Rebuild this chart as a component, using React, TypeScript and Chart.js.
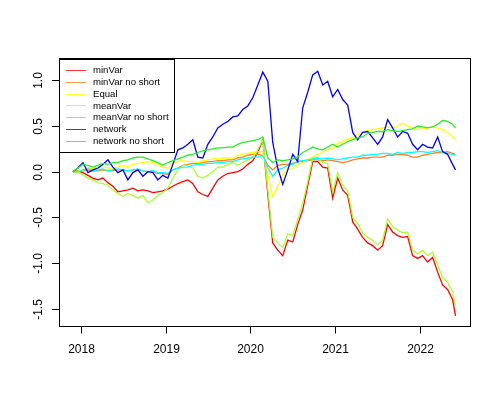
import React, { useEffect, useRef } from "react";
import { Chart, registerables } from "chart.js";

Chart.register(...registerables);

const FONT = '"Liberation Sans", Arial, Helvetica, sans-serif';

// decimal-year dates of the sampled observations
const dates = [
  2017.909, 2017.968, 2018.027, 2018.086, 2018.145, 2018.204, 2018.262, 2018.321, 2018.380, 2018.439,
  2018.498, 2018.556, 2018.615, 2018.674, 2018.733, 2018.792, 2018.851, 2018.909, 2018.968, 2019.027,
  2019.086, 2019.145, 2019.204, 2019.262, 2019.321, 2019.380, 2019.439, 2019.498, 2019.556, 2019.615,
  2019.674, 2019.733, 2019.792, 2019.851, 2019.909, 2019.968, 2020.027, 2020.086, 2020.145, 2020.204,
  2020.262, 2020.321, 2020.380, 2020.439, 2020.498, 2020.556, 2020.615, 2020.674, 2020.733, 2020.792,
  2020.851, 2020.909, 2020.968, 2021.027, 2021.086, 2021.145, 2021.204, 2021.262, 2021.321, 2021.380,
  2021.439, 2021.498, 2021.556, 2021.615, 2021.674, 2021.733, 2021.792, 2021.851, 2021.909, 2021.968,
  2022.027, 2022.086, 2022.145, 2022.204, 2022.262, 2022.321, 2022.380, 2022.415,
];

const minVar = [
  0.00, 0.01, -0.01, -0.04, -0.07, -0.09, -0.07, -0.12, -0.16, -0.22,
  -0.21, -0.20, -0.18, -0.21, -0.20, -0.21, -0.23, -0.22, -0.21, -0.19,
  -0.16, -0.13, -0.11, -0.09, -0.13, -0.22, -0.25, -0.27, -0.18, -0.09,
  -0.05, -0.02, -0.01, 0.00, 0.03, 0.08, 0.12, 0.21, 0.35, -0.25,
  -0.78, -0.86, -0.92, -0.75, -0.77, -0.58, -0.42, -0.15, 0.11, 0.11,
  0.05, 0.04, -0.29, -0.07, -0.20, -0.26, -0.55, -0.63, -0.72, -0.78,
  -0.81, -0.86, -0.81, -0.58, -0.66, -0.70, -0.72, -0.71, -0.92, -0.95,
  -0.92, -0.99, -0.94, -1.10, -1.24, -1.29, -1.40, -1.58,
];

const minVarNoShort = [
  0.00, 0.00, 0.01, 0.02, 0.01, 0.01, 0.02, 0.01, 0.01, 0.02,
  0.02, 0.01, 0.02, 0.02, 0.01, 0.00, 0.00, -0.02, -0.02, -0.03,
  0.02, 0.04, 0.07, 0.08, 0.09, 0.09, 0.10, 0.11, 0.11, 0.12,
  0.12, 0.13, 0.13, 0.15, 0.16, 0.18, 0.19, 0.19, 0.18, 0.07,
  0.02, 0.07, 0.08, 0.08, 0.09, 0.11, 0.11, 0.12, 0.13, 0.13,
  0.12, 0.13, 0.12, 0.11, 0.10, 0.11, 0.13, 0.14, 0.15, 0.15,
  0.16, 0.16, 0.16, 0.18, 0.18, 0.19, 0.19, 0.18, 0.16, 0.16,
  0.18, 0.19, 0.20, 0.21, 0.21, 0.22, 0.20, 0.19,
];

const equal = [
  0.00, 0.01, 0.02, 0.04, 0.03, 0.04, 0.05, 0.04, 0.04, 0.05,
  0.07, 0.05, 0.08, 0.09, 0.10, 0.11, 0.10, 0.08, 0.05, 0.04,
  0.09, 0.11, 0.12, 0.11, 0.11, 0.10, 0.12, 0.13, 0.14, 0.14,
  0.15, 0.15, 0.15, 0.18, 0.19, 0.20, 0.21, 0.22, 0.22, -0.03,
  -0.27, -0.16, -0.03, 0.02, 0.04, 0.08, 0.10, 0.13, 0.16, 0.19,
  0.21, 0.24, 0.26, 0.31, 0.33, 0.36, 0.37, 0.41, 0.43, 0.45,
  0.46, 0.47, 0.48, 0.49, 0.48, 0.50, 0.53, 0.50, 0.48, 0.46,
  0.47, 0.48, 0.49, 0.48, 0.46, 0.43, 0.38, 0.36,
];

const meanVar = [
  0.00, -0.01, -0.03, -0.07, -0.09, -0.12, -0.13, -0.15, -0.20, -0.24,
  -0.27, -0.24, -0.26, -0.29, -0.26, -0.34, -0.31, -0.26, -0.23, -0.18,
  -0.07, 0.02, 0.07, 0.07, 0.04, -0.05, -0.07, -0.04, 0.00, 0.05,
  0.05, 0.08, 0.10, 0.07, 0.10, 0.13, 0.16, 0.24, 0.35, -0.20,
  -0.72, -0.78, -0.83, -0.68, -0.70, -0.52, -0.35, -0.11, 0.15, 0.15,
  0.10, 0.09, -0.22, -0.01, -0.15, -0.21, -0.50, -0.57, -0.67, -0.72,
  -0.75, -0.80, -0.75, -0.52, -0.60, -0.64, -0.67, -0.66, -0.86, -0.90,
  -0.86, -0.92, -0.88, -1.02, -1.16, -1.21, -1.32, -1.47,
];

const meanVarNoShort = [
  0.00, 0.00, 0.02, 0.03, 0.01, 0.02, 0.03, 0.01, 0.02, 0.03,
  0.02, 0.01, 0.02, 0.03, 0.01, 0.00, 0.01, -0.01, -0.01, -0.02,
  0.02, 0.04, 0.05, 0.05, 0.07, 0.08, 0.08, 0.09, 0.09, 0.10,
  0.10, 0.11, 0.11, 0.13, 0.14, 0.15, 0.16, 0.16, 0.18, 0.04,
  -0.05, 0.02, 0.04, 0.07, 0.08, 0.11, 0.12, 0.13, 0.14, 0.15,
  0.14, 0.15, 0.14, 0.13, 0.14, 0.15, 0.16, 0.16, 0.18, 0.18,
  0.19, 0.19, 0.20, 0.20, 0.19, 0.21, 0.20, 0.21, 0.21, 0.22,
  0.22, 0.21, 0.22, 0.23, 0.21, 0.20, 0.19, 0.18,
];

const network = [
  0.00, 0.04, 0.10, -0.01, 0.02, 0.04, 0.08, 0.13, 0.05, -0.01,
  0.02, -0.09, -0.01, 0.02, -0.05, 0.00, -0.01, -0.09, -0.04, -0.07,
  0.08, 0.24, 0.26, 0.30, 0.35, 0.16, 0.15, 0.30, 0.38, 0.48,
  0.52, 0.55, 0.60, 0.61, 0.68, 0.72, 0.81, 0.95, 1.09, 0.99,
  0.32, 0.04, -0.14, 0.02, 0.19, 0.11, 0.70, 0.87, 1.06, 1.10,
  0.95, 0.99, 0.82, 0.90, 0.79, 0.73, 0.43, 0.35, 0.43, 0.44,
  0.37, 0.30, 0.38, 0.57, 0.48, 0.38, 0.44, 0.42, 0.30, 0.24,
  0.30, 0.27, 0.26, 0.38, 0.22, 0.19, 0.08, 0.02,
];

const networkNoShort = [
  0.00, 0.04, 0.08, 0.07, 0.05, 0.07, 0.09, 0.08, 0.10, 0.10,
  0.12, 0.13, 0.15, 0.16, 0.16, 0.14, 0.12, 0.10, 0.07, 0.10,
  0.12, 0.14, 0.16, 0.18, 0.19, 0.21, 0.23, 0.24, 0.25, 0.26,
  0.26, 0.27, 0.27, 0.30, 0.32, 0.33, 0.34, 0.35, 0.38, 0.15,
  0.10, 0.13, 0.12, 0.13, 0.14, 0.16, 0.21, 0.24, 0.27, 0.25,
  0.24, 0.27, 0.30, 0.27, 0.30, 0.33, 0.35, 0.37, 0.38, 0.42,
  0.43, 0.44, 0.44, 0.46, 0.45, 0.44, 0.45, 0.46, 0.47, 0.50,
  0.49, 0.48, 0.49, 0.52, 0.56, 0.55, 0.52, 0.48,
];

const seriesNames = [
  "minVar",
  "minVar no short",
  "Equal",
  "meanVar",
  "meanVar no short",
  "network",
  "network no short",
];
const seriesValues = [minVar, minVarNoShort, equal, meanVar, meanVarNoShort, network, networkNoShort];
const seriesColors = ["#FF0000", "#FF7F24", "#FFFF00", "#A8FF2F", "#00FFFF", "#0000FF", "#22EE22"];

const xTicks = [2018, 2019, 2020, 2021, 2022];
const yTicks = [-1.5, -1.0, -0.5, 0.0, 0.5, 1.0];

export default function App() {
  const ref = useRef<HTMLCanvasElement>(null);

  useEffect(() => {
    document.body.style.margin = "0";
    const canvas = ref.current;
    if (!canvas) return;

    const datasets = seriesValues.map((vals, i) => ({
      label: seriesNames[i],
      data: dates.map((d, j) => ({ x: d, y: vals[j] })),
      borderColor: seriesColors[i],
      backgroundColor: seriesColors[i],
      borderWidth: 1.3,
      pointRadius: 0,
      pointHoverRadius: 0,
      tension: 0,
      fill: false,
      order: -i,
    }));

    const rStyle = {
      id: "rStyle",
      afterDraw(chart: any) {
        const ctx = chart.ctx as CanvasRenderingContext2D;
        const xs = chart.scales.x;
        const ys = chart.scales.y;
        const { left, top, right, bottom } = chart.chartArea;
        ctx.save();
        ctx.strokeStyle = "#000";
        ctx.fillStyle = "#000";
        ctx.lineWidth = 1;
        // box
        ctx.strokeRect(left + 0.5, top + 0.5, right - left, bottom - top);
        // x axis ticks + labels
        ctx.font = `12px ${FONT}`;
        ctx.textAlign = "center";
        ctx.textBaseline = "alphabetic";
        xTicks.forEach((t) => {
          const px = Math.round(xs.getPixelForValue(t)) + 0.5;
          ctx.beginPath();
          ctx.moveTo(px, bottom);
          ctx.lineTo(px, bottom + 7.5);
          ctx.stroke();
          ctx.fillText(String(t), px, bottom + 27);
        });
        // y axis ticks + rotated labels
        yTicks.forEach((t) => {
          const py = Math.round(ys.getPixelForValue(t)) + 0.5;
          ctx.beginPath();
          ctx.moveTo(left - 7, py);
          ctx.lineTo(left + 0.5, py);
          ctx.stroke();
          ctx.save();
          ctx.translate(left - 17, py);
          ctx.rotate(-Math.PI / 2);
          ctx.textAlign = "center";
          ctx.textBaseline = "alphabetic";
          ctx.fillText(t.toFixed(1), 0, 0);
          ctx.restore();
        });
        // legend
        const lx = left;
        const ly = top + 1;
        const lw = 115;
        const lh = 93;
        ctx.fillStyle = "#fff";
        ctx.fillRect(lx, ly, lw, lh);
        ctx.strokeStyle = "#000";
        ctx.strokeRect(lx + 0.5, ly + 0.5, lw, lh);
        ctx.font = `9.6px ${FONT}`;
        ctx.textAlign = "left";
        ctx.textBaseline = "middle";
        seriesNames.forEach((name, i) => {
          const y = ly + 11 + i * 11.8;
          ctx.globalAlpha = 0.8;
          ctx.strokeStyle = seriesColors[i];
          ctx.beginPath();
          ctx.moveTo(lx + 7, Math.round(y) + 0.5);
          ctx.lineTo(lx + 27, Math.round(y) + 0.5);
          ctx.stroke();
          ctx.globalAlpha = 1;
          ctx.fillStyle = "#000";
          ctx.fillText(name, lx + 34, y + 0.5);
        });
        ctx.restore();
      },
    };

    const chart = new Chart(canvas, {
      type: "line",
      data: { datasets: datasets as any },
      options: {
        responsive: false,
        animation: false,
        devicePixelRatio: 1,
        parsing: true,
        layout: { padding: { left: 59, top: 58, right: 30, bottom: 74 } },
        scales: {
          x: { type: "linear", min: 2017.745, max: 2022.585, display: false },
          y: { type: "linear", min: -1.69, max: 1.245, display: false },
        },
        plugins: {
          legend: { display: false },
          tooltip: { enabled: false },
        },
        events: [],
      },
      plugins: [rStyle],
    });

    return () => chart.destroy();
  }, []);

  return (
    <div style={{ position: "absolute", left: 0, top: 0, width: 500, height: 400, background: "#fff" }}>
      <canvas ref={ref} width={500} height={400} style={{ display: "block" }} />
    </div>
  );
}
